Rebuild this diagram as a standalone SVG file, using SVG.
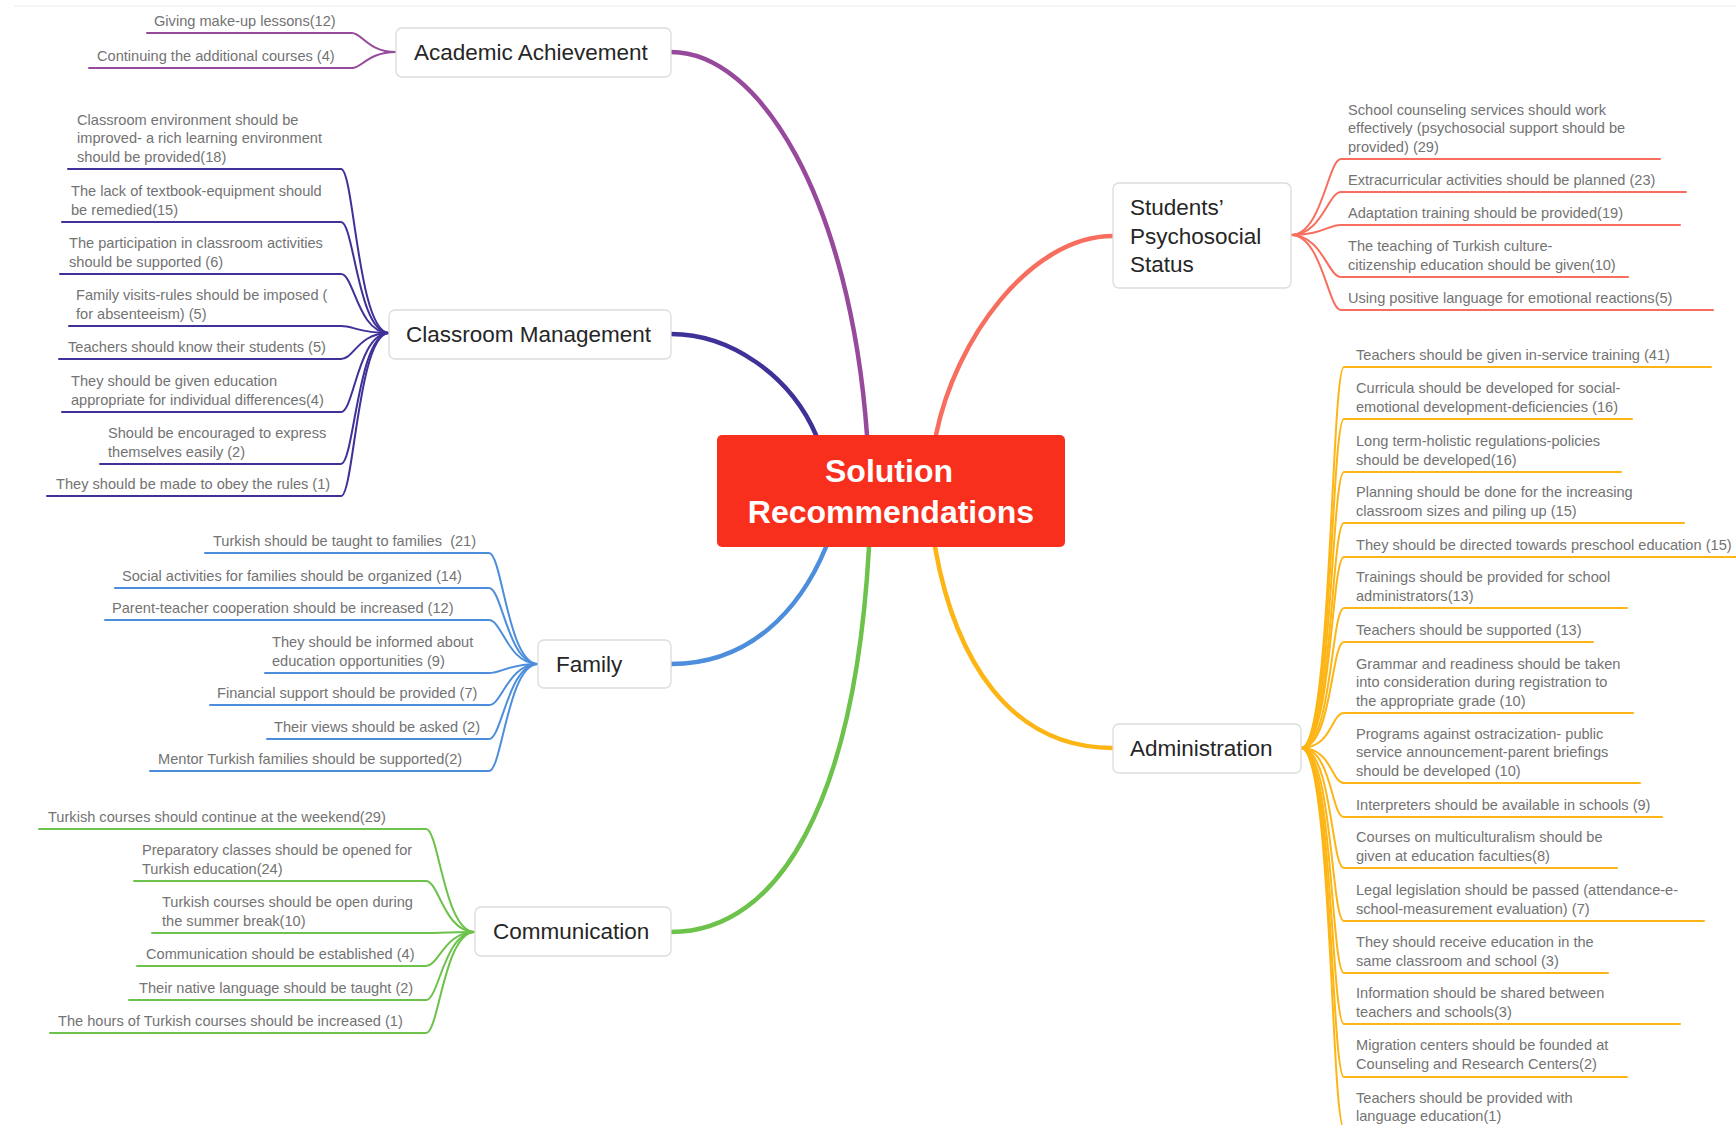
<svg xmlns="http://www.w3.org/2000/svg" width="1736" height="1125" viewBox="0 0 1736 1125">
<style>
.leaf{font-family:"Liberation Sans",Arial,sans-serif;font-size:14.6px;fill:#737373}
.topic{font-family:"Liberation Sans",Arial,sans-serif;font-size:22.5px;fill:#262626}
.rootT{font-family:"Liberation Sans",Arial,sans-serif;font-size:32px;font-weight:bold;fill:#fff;text-anchor:middle}
.box{fill:#fff;stroke:#dcdcdc;stroke-width:1.3}
.c{fill:none;stroke-linecap:round}
.main{stroke-width:4.5}
.sub{stroke-width:2}
.pu{stroke:#974A9C}.in{stroke:#3E3299}.bl{stroke:#4D8EDC}.gr{stroke:#6CC24A}.sa{stroke:#F76E5E}.or{stroke:#FDB515}
</style>
<rect width="1736" height="1125" fill="#fff"/>
<line x1="14" y1="6" x2="1736" y2="6" stroke="#ececec" stroke-width="1"/>
<g id="connectors">
<path class="c main pu" d="M867 435 C850 200 760 52 671 52"/>
<path class="c main in" d="M816 435 C790 375 730 334 671 334"/>
<path class="c main sa" d="M936 435 C955 340 1030 236 1113 236"/>
<path class="c main bl" d="M826 547 C800 610 750 664 671 664"/>
<path class="c main gr" d="M869 547 C855 800 780 932 671 932"/>
<path class="c main or" d="M935 547 C955 660 1010 748 1113 748"/>
<!-- academic -->
<path class="c sub pu" d="M396 52 C368 52 362 33 352 33 H147"/>
<path class="c sub pu" d="M396 52 C368 52 362 68 352 68 H89"/>
<!-- classroom -->
<path class="c sub in" d="M389 333 C358 333 354 169 341 169 H68"/>
<path class="c sub in" d="M389 333 C358 333 354 222 341 222 H62"/>
<path class="c sub in" d="M389 333 C358 333 354 274 341 274 H60"/>
<path class="c sub in" d="M389 333 C358 333 354 326 341 326 H69"/>
<path class="c sub in" d="M389 333 C358 333 354 359 341 359 H59"/>
<path class="c sub in" d="M389 333 C358 333 354 412 341 412 H62"/>
<path class="c sub in" d="M389 333 C358 333 354 464 341 464 H100"/>
<path class="c sub in" d="M389 333 C358 333 354 496 341 496 H47"/>
<!-- family -->
<path class="c sub bl" d="M538 664 C508 664 502 553 489 553 H205"/>
<path class="c sub bl" d="M538 664 C508 664 502 588 489 588 H115"/>
<path class="c sub bl" d="M538 664 C508 664 502 620 489 620 H105"/>
<path class="c sub bl" d="M538 664 C508 664 502 673 489 673 H265"/>
<path class="c sub bl" d="M538 664 C508 664 502 705 489 705 H210"/>
<path class="c sub bl" d="M538 664 C508 664 502 739 489 739 H267"/>
<path class="c sub bl" d="M538 664 C508 664 502 771 489 771 H150"/>
<!-- communication -->
<path class="c sub gr" d="M475 932 C444 932 439 829 426 829 H39"/>
<path class="c sub gr" d="M475 932 C444 932 439 881 426 881 H134"/>
<path class="c sub gr" d="M475 932 C444 932 439 933 426 933 H152"/>
<path class="c sub gr" d="M475 932 C444 932 439 966 426 966 H137"/>
<path class="c sub gr" d="M475 932 C444 932 439 1000 426 1000 H129"/>
<path class="c sub gr" d="M475 932 C444 932 439 1033 426 1033 H50"/>
<!-- psychosocial -->
<path class="c sub sa" d="M1291 235 C1322 235 1328 159 1341 159 H1660"/>
<path class="c sub sa" d="M1291 235 C1322 235 1328 192 1341 192 H1686"/>
<path class="c sub sa" d="M1291 235 C1322 235 1328 225 1341 225 H1680"/>
<path class="c sub sa" d="M1291 235 C1322 235 1328 277 1341 277 H1628"/>
<path class="c sub sa" d="M1291 235 C1322 235 1328 310 1341 310 H1713"/>
<!-- administration -->
<path class="c sub or" d="M1301 748 C1332 748 1331 367 1344 367 H1711"/>
<path class="c sub or" d="M1301 748 C1332 748 1331 419 1344 419 H1632"/>
<path class="c sub or" d="M1301 748 C1332 748 1331 472 1344 472 H1621"/>
<path class="c sub or" d="M1301 748 C1332 748 1331 523 1344 523 H1684"/>
<path class="c sub or" d="M1301 748 C1332 748 1331 557 1344 557 H1750"/>
<path class="c sub or" d="M1301 748 C1332 748 1331 608 1344 608 H1627"/>
<path class="c sub or" d="M1301 748 C1332 748 1331 642 1344 642 H1593"/>
<path class="c sub or" d="M1301 748 C1332 748 1331 713 1344 713 H1633"/>
<path class="c sub or" d="M1301 748 C1332 748 1331 783 1344 783 H1640"/>
<path class="c sub or" d="M1301 748 C1332 748 1331 817 1344 817 H1662"/>
<path class="c sub or" d="M1301 748 C1332 748 1331 868 1344 868 H1617"/>
<path class="c sub or" d="M1301 748 C1332 748 1331 921 1344 921 H1704"/>
<path class="c sub or" d="M1301 748 C1332 748 1331 973 1344 973 H1608"/>
<path class="c sub or" d="M1301 748 C1332 748 1331 1024 1344 1024 H1680"/>
<path class="c sub or" d="M1301 748 C1332 748 1331 1077 1344 1077 H1627"/>
<path class="c sub or" d="M1301 748 C1332 748 1331 1128 1344 1128 H1600"/>
</g>
<g id="root">
<rect x="717" y="435" width="348" height="112" rx="5" fill="#F92F1D"/>
<text class="rootT" x="889" y="482">Solution</text>
<text class="rootT" x="891" y="523">Recommendations</text>
</g>
<g id="academic">
<rect class="box" x="396" y="28" width="275" height="49" rx="6"/>
<text class="topic" x="414" y="60">Academic Achievement</text>
</g>
<g id="classroom">
<rect class="box" x="389" y="310" width="282" height="49" rx="6"/>
<text class="topic" x="406" y="342">Classroom Management</text>
</g>
<g id="family">
<rect class="box" x="538" y="640" width="133" height="48" rx="6"/>
<text class="topic" x="556" y="672">Family</text>
</g>
<g id="communication">
<rect class="box" x="475" y="907" width="196" height="49" rx="6"/>
<text class="topic" x="493" y="939">Communication</text>
</g>
<g id="psychosocial">
<rect class="box" x="1113" y="183" width="178" height="105" rx="6"/>
<text class="topic" x="1130" y="215">Students’<tspan x="1130" y="243.5">Psychosocial</tspan><tspan x="1130" y="272">Status</tspan></text>
</g>
<g id="administration">
<rect class="box" x="1113" y="724" width="188" height="49" rx="6"/>
<text class="topic" x="1130" y="756">Administration</text>
</g>
<g id="academic-leaves">
<g id="aa1"><text class="leaf" x="154" y="26">Giving make-up lessons(12)</text></g>
<g id="aa2"><text class="leaf" x="97" y="61">Continuing the additional courses (4)</text></g>
</g>
<g id="classroom-leaves">
<g id="cm1"><text class="leaf" x="77" y="124.6">Classroom environment should be<tspan x="77" y="143.3">improved- a rich learning environment</tspan><tspan x="77" y="162">should be provided(18)</tspan></text></g>
<g id="cm2"><text class="leaf" x="71" y="196.3">The lack of textbook-equipment should<tspan x="71" y="215">be remedied(15)</tspan></text></g>
<g id="cm3"><text class="leaf" x="69" y="248.3">The participation in classroom activities<tspan x="69" y="267">should be supported (6)</tspan></text></g>
<g id="cm4"><text class="leaf" x="76" y="300.3">Family visits-rules should be imposed (<tspan x="76" y="319">for absenteeism) (5)</tspan></text></g>
<g id="cm5"><text class="leaf" x="68" y="352">Teachers should know their students (5)</text></g>
<g id="cm6"><text class="leaf" x="71" y="386.3">They should be given education<tspan x="71" y="405">appropriate for individual differences(4)</tspan></text></g>
<g id="cm7"><text class="leaf" x="108" y="438.3">Should be encouraged to express<tspan x="108" y="457">themselves easily (2)</tspan></text></g>
<g id="cm8"><text class="leaf" x="56" y="489">They should be made to obey the rules (1)</text></g>
</g>
<g id="family-leaves">
<g id="fa1"><text class="leaf" x="213" y="546" xml:space="preserve">Turkish should be taught to families  (21)</text></g>
<g id="fa2"><text class="leaf" x="122" y="581">Social activities for families should be organized (14)</text></g>
<g id="fa3"><text class="leaf" x="112" y="613">Parent-teacher cooperation should be increased (12)</text></g>
<g id="fa4"><text class="leaf" x="272" y="647.3">They should be informed about<tspan x="272" y="666">education opportunities (9)</tspan></text></g>
<g id="fa5"><text class="leaf" x="217" y="698">Financial support should be provided (7)</text></g>
<g id="fa6"><text class="leaf" x="274" y="732">Their views should be asked (2)</text></g>
<g id="fa7"><text class="leaf" x="158" y="764">Mentor Turkish families should be supported(2)</text></g>
</g>
<g id="communication-leaves">
<g id="co1"><text class="leaf" x="48" y="822">Turkish courses should continue at the weekend(29)</text></g>
<g id="co2"><text class="leaf" x="142" y="855.3">Preparatory classes should be opened for<tspan x="142" y="874">Turkish education(24)</tspan></text></g>
<g id="co3"><text class="leaf" x="162" y="907.3">Turkish courses should be open during<tspan x="162" y="926">the summer break(10)</tspan></text></g>
<g id="co4"><text class="leaf" x="146" y="959">Communication should be established (4)</text></g>
<g id="co5"><text class="leaf" x="139" y="993">Their native language should be taught (2)</text></g>
<g id="co6"><text class="leaf" x="58" y="1026">The hours of Turkish courses should be increased (1)</text></g>
</g>
<g id="psychosocial-leaves">
<g id="ps1"><text class="leaf" x="1348" y="114.6">School counseling services should work<tspan x="1348" y="133.3">effectively (psychosocial support should be</tspan><tspan x="1348" y="152">provided) (29)</tspan></text></g>
<g id="ps2"><text class="leaf" x="1348" y="185">Extracurricular activities should be planned (23)</text></g>
<g id="ps3"><text class="leaf" x="1348" y="218">Adaptation training should be provided(19)</text></g>
<g id="ps4"><text class="leaf" x="1348" y="251.3">The teaching of Turkish culture-<tspan x="1348" y="270">citizenship education should be given(10)</tspan></text></g>
<g id="ps5"><text class="leaf" x="1348" y="303">Using positive language for emotional reactions(5)</text></g>
</g>
<g id="administration-leaves">
<g id="ad1"><text class="leaf" x="1356" y="360">Teachers should be given in-service training (41)</text></g>
<g id="ad2"><text class="leaf" x="1356" y="393.3">Curricula should be developed for social-<tspan x="1356" y="412">emotional development-deficiencies (16)</tspan></text></g>
<g id="ad3"><text class="leaf" x="1356" y="446.3">Long term-holistic regulations-policies<tspan x="1356" y="465">should be developed(16)</tspan></text></g>
<g id="ad4"><text class="leaf" x="1356" y="497.3">Planning should be done for the increasing<tspan x="1356" y="516">classroom sizes and piling up (15)</tspan></text></g>
<g id="ad5"><text class="leaf" x="1356" y="550">They should be directed towards preschool education (15)</text></g>
<g id="ad6"><text class="leaf" x="1356" y="582.3">Trainings should be provided for school<tspan x="1356" y="601">administrators(13)</tspan></text></g>
<g id="ad7"><text class="leaf" x="1356" y="635">Teachers should be supported (13)</text></g>
<g id="ad8"><text class="leaf" x="1356" y="668.6">Grammar and readiness should be taken<tspan x="1356" y="687.3">into consideration during registration to</tspan><tspan x="1356" y="706">the appropriate grade (10)</tspan></text></g>
<g id="ad9"><text class="leaf" x="1356" y="738.6">Programs against ostracization- public<tspan x="1356" y="757.3">service announcement-parent briefings</tspan><tspan x="1356" y="776">should be developed (10)</tspan></text></g>
<g id="ad10"><text class="leaf" x="1356" y="810">Interpreters should be available in schools (9)</text></g>
<g id="ad11"><text class="leaf" x="1356" y="842.3">Courses on multiculturalism should be<tspan x="1356" y="861">given at education faculties(8)</tspan></text></g>
<g id="ad12"><text class="leaf" x="1356" y="895.3">Legal legislation should be passed (attendance-e-<tspan x="1356" y="914">school-measurement evaluation) (7)</tspan></text></g>
<g id="ad13"><text class="leaf" x="1356" y="947.3">They should receive education in the<tspan x="1356" y="966">same classroom and school (3)</tspan></text></g>
<g id="ad14"><text class="leaf" x="1356" y="998.3">Information should be shared between<tspan x="1356" y="1017">teachers and schools(3)</tspan></text></g>
<g id="ad15"><text class="leaf" x="1356" y="1050">Migration centers should be founded at<tspan x="1356" y="1068.5">Counseling and Research Centers(2)</tspan></text></g>
<g id="ad16"><text class="leaf" x="1356" y="1102.6">Teachers should be provided with<tspan x="1356" y="1121.3">language education(1)</tspan></text></g>
</g>
</svg>
